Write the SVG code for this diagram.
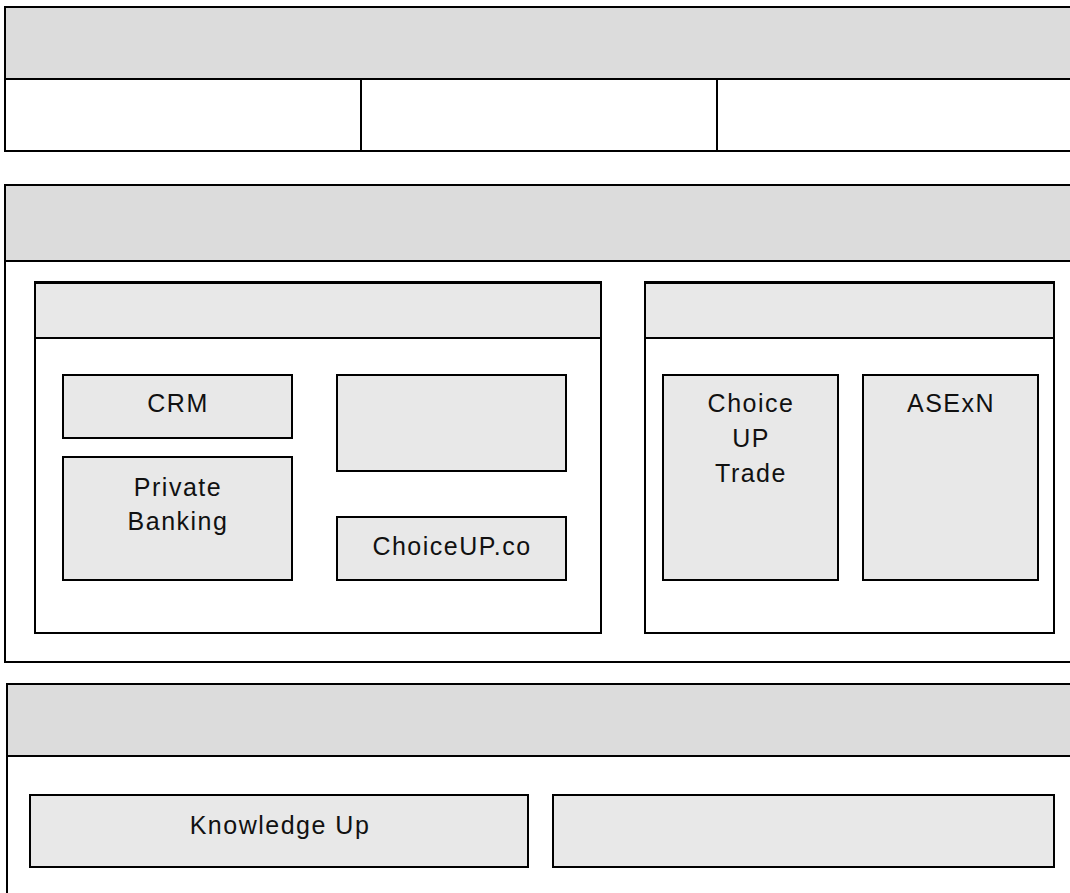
<svg xmlns="http://www.w3.org/2000/svg" width="1070" height="893" viewBox="0 0 1070 893">
<style>
.sec{fill:#ffffff;stroke:#000;stroke-width:2}
.hdr{fill:#dcdcdc;stroke:#000;stroke-width:2}
.ihdr{fill:#e8e8e8;stroke:#000;stroke-width:2}
.box{fill:#e8e8e8;stroke:#000;stroke-width:2}
.ln{stroke:#000;stroke-width:2;fill:none}
text{font-family:"Liberation Sans",Arial,sans-serif;font-size:25px;letter-spacing:1.5px;fill:#111;text-anchor:middle}
</style>
<rect width="1070" height="893" fill="#fff"/>
<g id="section1">
<rect class="sec" x="5" y="7" width="1080" height="144"/>
<rect class="hdr" x="5" y="7" width="1080" height="72"/>
<line class="ln" x1="361" y1="79" x2="361" y2="151"/>
<line class="ln" x1="717" y1="79" x2="717" y2="151"/>
</g>
<g id="section2">
<rect class="sec" x="5" y="185" width="1080" height="477"/>
<rect class="hdr" x="5" y="185" width="1080" height="76"/>
</g>
<g id="group-left">
<rect class="sec" x="35" y="282" width="566" height="351"/>
<rect class="ihdr" x="35" y="282" width="566" height="56"/>
<line class="ln" x1="35" y1="283" x2="601" y2="283" stroke-width="3"/>
</g>
<g id="crm">
<rect class="box" x="63" y="375" width="229" height="63"/>
<text x="178" y="412">CRM</text>
</g>
<g id="private-banking">
<rect class="box" x="63" y="457" width="229" height="123"/>
<text x="178" y="496">Private</text>
<text x="178" y="530">Banking</text>
</g>
<g id="empty-box">
<rect class="box" x="337" y="375" width="229" height="96"/>
</g>
<g id="choiceup-co">
<rect class="box" x="337" y="517" width="229" height="63"/>
<text x="452" y="555">ChoiceUP.co</text>
</g>
<g id="group-right">
<rect class="sec" x="645" y="282" width="409" height="351"/>
<rect class="ihdr" x="645" y="282" width="409" height="56"/>
<line class="ln" x1="645" y1="283" x2="1054" y2="283" stroke-width="3"/>
</g>
<g id="choice-up-trade">
<rect class="box" x="663" y="375" width="175" height="205"/>
<text x="751" y="412">Choice</text>
<text x="751" y="447">UP</text>
<text x="751" y="482">Trade</text>
</g>
<g id="asexn">
<rect class="box" x="863" y="375" width="175" height="205"/>
<text x="951" y="412">ASExN</text>
</g>
<g id="section3">
<rect class="sec" x="7" y="684" width="1080" height="230"/>
<rect class="hdr" x="7" y="684" width="1080" height="72"/>
</g>
<g id="knowledge-up">
<rect class="box" x="30" y="795" width="498" height="72"/>
<text x="280" y="834">Knowledge Up</text>
</g>
<g id="empty-bottom">
<rect class="box" x="553" y="795" width="501" height="72"/>
</g>
<g id="connectors"></g>
</svg>
